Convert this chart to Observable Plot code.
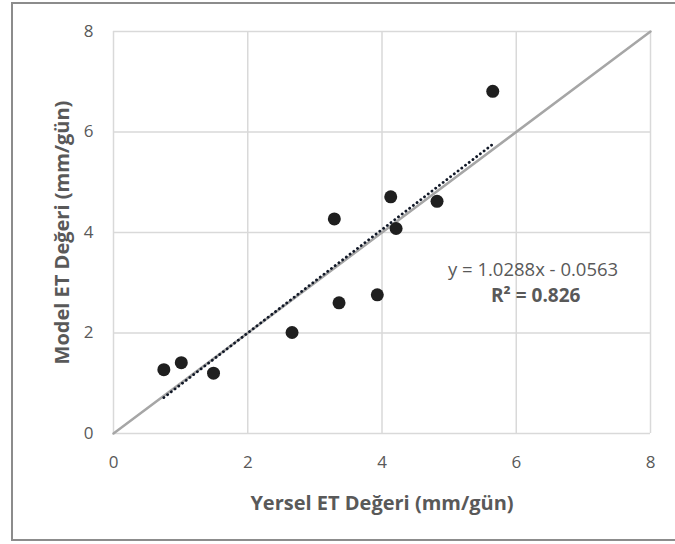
<!DOCTYPE html>
<html><head><meta charset="utf-8">
<script src="https://cdn.jsdelivr.net/npm/d3@7"></script>
<script src="https://cdn.jsdelivr.net/npm/@observablehq/plot@0.6"></script>
<style>
html,body{margin:0;padding:0;background:#fff;}
#wrap{position:relative;width:675px;height:544px;overflow:hidden;}
#border{position:absolute;left:11px;top:2px;width:700px;height:539px;border:2px solid #8c8c8c;box-sizing:border-box;pointer-events:none;}
</style></head>
<body><div id="wrap"><div id="border"></div></div>
<script>
const observed = [0.75, 1.01, 1.49, 2.66, 3.29, 3.36, 3.93, 4.13, 4.21, 4.82, 5.65];
const modeled  = [1.27, 1.41, 1.20, 2.01, 4.27, 2.60, 2.76, 4.71, 4.08, 4.62, 6.81];
const ticks = [0, 2, 4, 6, 8];
const slope = 1.0288, intercept = -0.0563, r2 = 0.826;
const equationText = "y = 1.0288x - 0.0563";
const r2Text = "R² = 0.826";
const xTitle = "Yersel ET Değeri (mm/gün)";
const yTitle = "Model ET Değeri (mm/gün)";

const points = observed.map((x, i) => ({x, y: modeled[i]}));
const xMin = d3.min(observed), xMax = d3.max(observed);
const trend = d3.range(0, 101).map(i => {
  const x = xMin + (xMax - xMin) * i / 100;
  return {x, y: slope * x + intercept};
});
const identity = [{x: 0, y: 0}, {x: 8, y: 8}];

const font = "'Open Sans', sans-serif";
const fmt = d3.format("d");
const chart = Plot.plot({
  width: 675, height: 544,
  marginLeft: 113, marginRight: 25, marginTop: 31, marginBottom: 111,
  style: {fontFamily: font, fontSize: "17px", color: "#595959", background: "transparent"},
  x: {domain: [0, 8], label: null},
  y: {domain: [0, 8], label: null},
  marks: [
    Plot.gridX(ticks, {stroke: "#d9d9d9", strokeOpacity: 1, strokeWidth: 1.5}),
    Plot.gridY(ticks, {stroke: "#d9d9d9", strokeOpacity: 1, strokeWidth: 1.5}),
    Plot.axisX(ticks, {tickSize: 0, tickPadding: 22, fontSize: 17, fill: "#595959", tickFormat: fmt}),
    Plot.axisY(ticks, {tickSize: 0, tickPadding: 20, fontSize: 17, fill: "#595959", tickFormat: fmt}),
    Plot.line(identity, {x: "x", y: "y", stroke: "#a6a6a6", strokeWidth: 2.5}),
    Plot.line(trend, {x: "x", y: "y", stroke: "#111827", strokeWidth: 2.8, strokeDasharray: "0.1 4.6", strokeLinecap: "round"}),
    Plot.dot(points, {x: "x", y: "y", r: 6.5, fill: "#1f1f1f", stroke: "none"}),
    Plot.text([equationText], {x: 6.25, y: 3.25, text: d => d, fontSize: 18.5, fill: "#595959", textAnchor: "middle"}),
    Plot.text([r2Text], {x: 6.29, y: 2.73, text: d => d, fontSize: 19, fontWeight: "bold", fill: "#595959", textAnchor: "middle"}),
    Plot.text([xTitle], {x: 4, y: 0, dy: 70, text: d => d, fontSize: 20, fontWeight: "bold", fill: "#595959"}),
    Plot.text([yTitle], {x: 0, y: 4, dx: -51, rotate: -90, text: d => d, fontSize: 20, fontWeight: "bold", fill: "#595959"})
  ]
});
document.getElementById("wrap").appendChild(chart);
chart.style.position = "absolute"; chart.style.left = "0"; chart.style.top = "0";
</script></body></html>
